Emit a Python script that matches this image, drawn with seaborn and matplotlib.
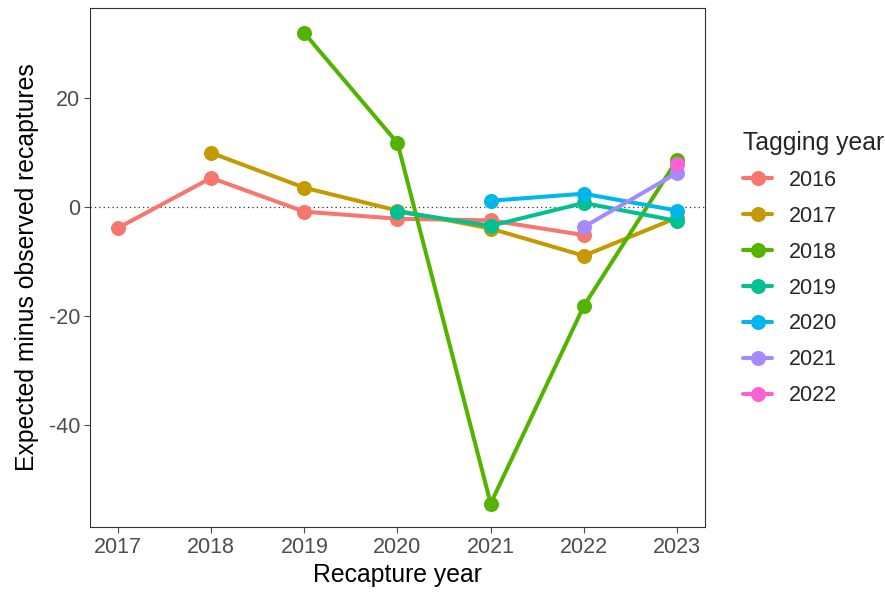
import matplotlib
matplotlib.use("Agg")
import matplotlib.pyplot as plt
import seaborn as sns
import pandas as pd
from matplotlib.lines import Line2D

sns.set_style("white")
plt.rcParams['font.family'] = ['Liberation Sans', 'DejaVu Sans']
plt.rcParams['axes.unicode_minus'] = False

tagging_years = ["2016", "2017", "2018", "2019", "2020", "2021", "2022"]
recap_2016 = {"years": [2017, 2018, 2019, 2020, 2021, 2022], "values": [-3.9, 5.3, -0.9, -2.2, -2.5, -5.2]}
recap_2017 = {"years": [2018, 2019, 2020, 2021, 2022, 2023], "values": [9.9, 3.5, -0.7, -4.0, -9.0, -2.0]}
recap_2018 = {"years": [2019, 2020, 2021, 2022, 2023], "values": [31.9, 11.7, -54.5, -18.2, 8.6]}
recap_2019 = {"years": [2020, 2021, 2022, 2023], "values": [-0.9, -3.5, 0.7, -2.6]}
recap_2020 = {"years": [2021, 2022, 2023], "values": [1.1, 2.4, -0.7]}
recap_2021 = {"years": [2022, 2023], "values": [-3.7, 6.2]}
recap_2022 = {"years": [2023], "values": [7.9]}
series = [recap_2016, recap_2017, recap_2018, recap_2019, recap_2020, recap_2021, recap_2022]
colors = ["#F8766D", "#C49A00", "#53B400", "#00C094", "#00B6EB", "#A58AFF", "#FB61D7"]
x_ticks = [2017, 2018, 2019, 2020, 2021, 2022, 2023]
y_ticks = [-40, -20, 0, 20]

rows = []
for ty, s in zip(tagging_years, series):
    for yr, v in zip(s["years"], s["values"]):
        rows.append({"Tagging year": ty, "Recapture year": yr, "diff": v})
df = pd.DataFrame(rows)

fig = plt.figure(figsize=(8.85, 5.96), dpi=100)
ax = fig.add_axes([0.1017, 0.1158, 0.6949, 0.8708])

ax.axhline(0, color="#333333", linestyle=(0, (1, 2.5)), linewidth=0.9, zorder=1)

palette = dict(zip(tagging_years, colors))
sns.lineplot(data=df, x="Recapture year", y="diff", hue="Tagging year",
             hue_order=tagging_years, palette=palette, marker="o",
             markersize=10.8, markeredgewidth=0, linewidth=2.9,
             legend=False, ax=ax, zorder=3)

ax.set_xlim(2016.7, 2023.3)
ax.set_ylim(-58.8, 36.5)
ax.set_xticks(x_ticks)
ax.set_xticklabels([str(t) for t in x_ticks])
ax.set_yticks(y_ticks)
ax.set_yticklabels([str(t) for t in y_ticks])
ax.tick_params(axis="both", labelsize=15.5, colors="#4D4D4D", length=4, width=0.8,
               direction="out", bottom=True, left=True, pad=3)
for lab in ax.get_xticklabels() + ax.get_yticklabels():
    lab.set_color("#4D4D4D")
for sp in ax.spines.values():
    sp.set_color("#333333")
    sp.set_linewidth(0.8)
ax.set_xlabel("Recapture year", fontsize=17.8, color="black", labelpad=4)
ax.set_ylabel("Expected minus observed recaptures", fontsize=17.8, color="black", labelpad=7)

handles = [Line2D([0], [0], color=c, linewidth=2.9, marker="o", markersize=10.8,
                  markeredgewidth=0) for c in colors]
leg = fig.legend(handles, tagging_years, title="Tagging year", loc="upper left",
                 bbox_to_anchor=(0.840, 0.780), frameon=False, fontsize=15.5,
                 title_fontsize=17.8, handlelength=1.35, labelspacing=0.69,
                 handletextpad=0.75, borderaxespad=0, borderpad=0)
leg._legend_box.align = "left"

fig.savefig("out.png", dpi=100)
